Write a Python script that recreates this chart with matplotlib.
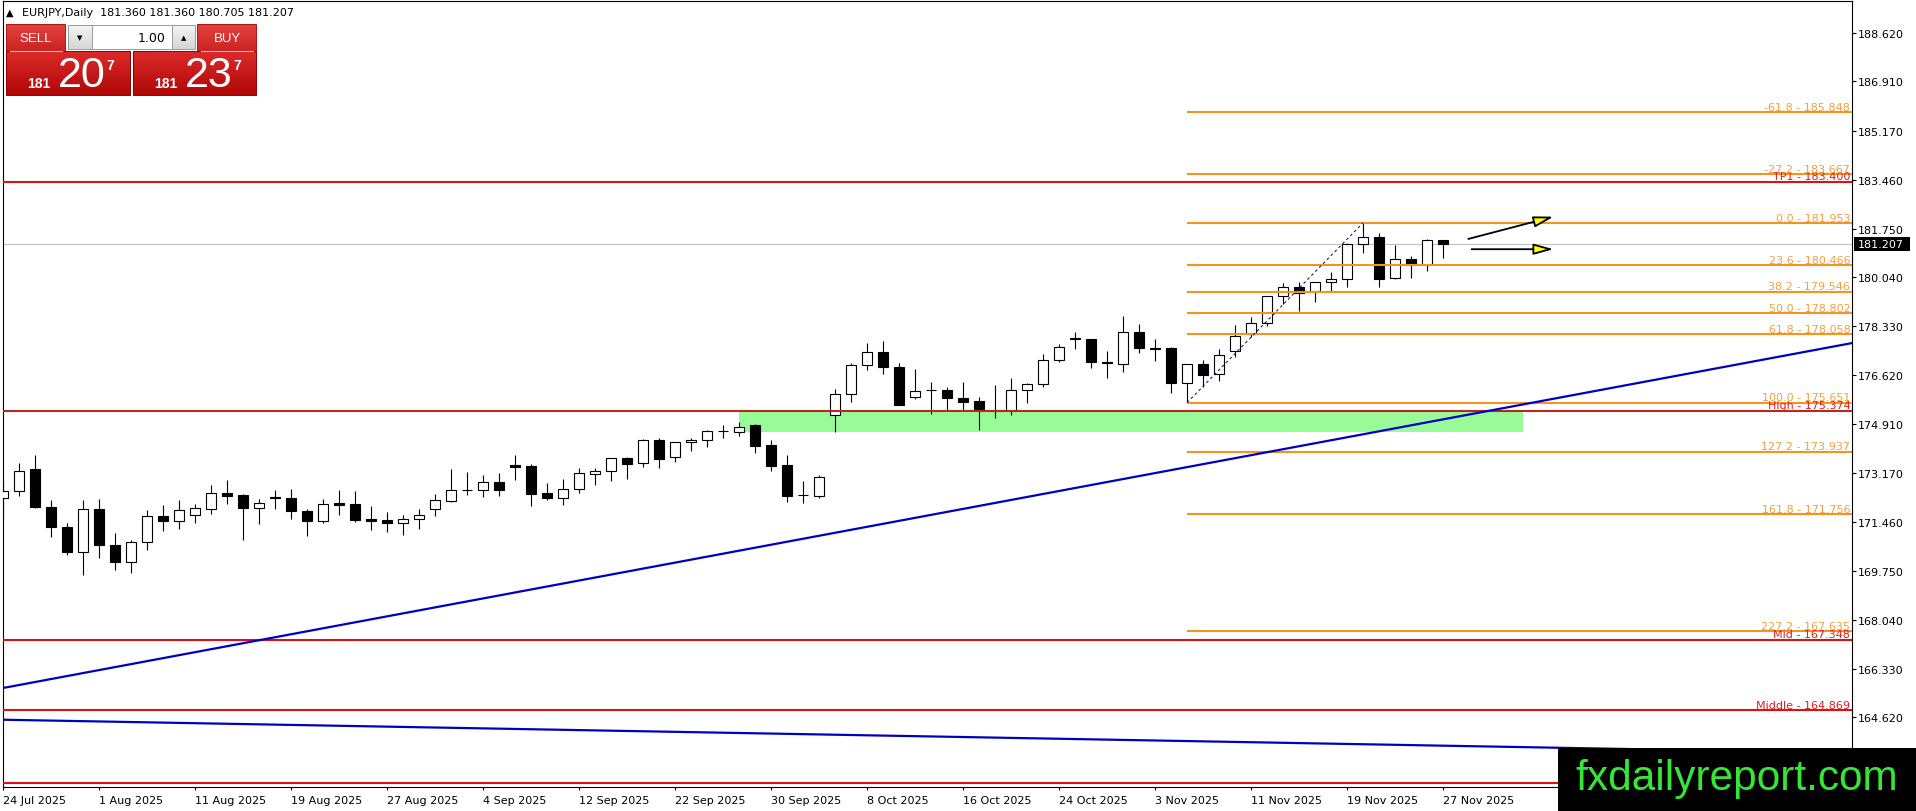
import numpy as np
import matplotlib
matplotlib.use("Agg")
import matplotlib.pyplot as plt
import matplotlib.transforms as mtransforms
from matplotlib.patches import Rectangle, FancyArrowPatch
from matplotlib.colors import LinearSegmentedColormap

plt.rcParams['font.family'] = ['DejaVu Sans']

# ---------------- data ----------------
symbol = "EURJPY,Daily"
header_ohlc = ["181.360", "181.360", "180.705", "181.207"]

opens = [172.32,172.56,173.32,172.01,171.31,170.40,171.94,170.66,170.07,170.75,
         171.69,171.51,171.72,171.94,172.48,172.41,171.96,172.36,172.30,171.85,
         171.51,172.13,172.09,171.57,171.53,171.42,171.57,171.91,172.22,172.58,
         172.59,172.86,173.45,173.42,172.47,172.32,172.61,173.14,173.26,173.71,
         173.52,174.33,173.73,174.26,174.33,174.65,174.61,174.86,174.16,173.46,
         172.41,172.38,175.23,175.97,176.96,177.44,176.89,175.86,176.09,176.11,
         175.82,175.70,175.41,175.37,176.11,176.32,177.16,177.89,177.89,177.09,
         177.02,178.12,177.58,177.57,176.33,177.00,176.64,177.45,178.06,178.43,
         179.38,179.69,179.55,179.87,179.98,181.23,181.45,180.01,180.69,180.46,
         181.36]
highs = [172.85,173.53,173.81,172.23,171.43,172.23,172.29,171.07,170.83,171.88,
         172.06,172.23,172.09,172.76,172.93,172.44,172.27,172.58,172.62,171.91,
         172.27,172.58,172.55,172.02,171.81,171.71,171.92,172.45,173.33,173.21,
         173.12,173.19,173.81,173.50,172.82,172.97,173.36,173.36,173.71,173.76,
         174.37,174.41,174.27,174.41,174.68,174.88,174.96,174.90,174.33,173.81,
         172.89,173.13,176.14,177.05,177.75,177.82,177.05,176.82,176.37,176.21,
         176.37,175.86,176.26,176.50,176.35,177.34,177.72,178.12,177.90,177.46,
         178.68,178.40,177.87,177.59,177.01,177.14,177.53,178.37,178.64,179.40,
         179.84,179.87,179.88,180.22,181.24,181.953,181.59,181.18,180.78,181.39,
         181.36]
lows = [171.62,172.38,171.95,170.95,170.32,169.62,170.19,169.79,169.68,170.49,
        171.16,171.22,171.43,171.75,172.10,170.84,171.40,171.91,171.57,170.98,
        171.42,171.72,171.47,171.19,171.12,171.02,171.22,171.69,172.16,172.43,
        172.36,172.39,172.95,172.04,172.25,172.08,172.50,172.78,172.91,172.97,
        173.41,173.36,173.58,173.94,174.11,174.40,174.49,173.87,173.27,172.17,
        172.15,172.32,174.62,175.67,176.79,176.67,175.56,175.79,175.27,175.38,
        175.38,174.69,175.11,175.23,175.63,176.20,177.07,177.54,176.88,176.53,
        176.74,177.38,177.11,176.00,175.651,176.19,176.40,177.24,177.94,178.35,
        179.11,178.87,179.17,179.58,179.69,180.88,179.69,180.00,180.01,180.25,
        180.705]
closes = [172.56,173.26,172.00,171.30,170.40,171.94,170.67,170.07,170.75,171.69,
          171.51,171.88,171.95,172.48,172.38,171.96,172.15,172.31,171.86,171.51,
          172.09,172.07,171.54,171.51,171.42,171.57,171.71,172.24,172.59,172.60,
          172.86,172.60,173.41,172.46,172.32,172.61,173.17,173.26,173.70,173.51,
          174.33,173.69,174.26,174.34,174.67,174.66,174.81,174.14,173.44,172.38,
          172.40,173.06,175.97,176.96,177.44,176.91,175.57,176.07,176.10,175.81,
          175.69,175.44,175.37,176.11,176.32,177.16,177.61,177.90,177.07,177.03,
          178.14,177.58,177.52,176.33,177.00,176.63,177.31,178.00,178.44,179.39,
          179.69,179.48,179.87,179.97,181.23,181.45,179.97,180.67,180.49,181.35,
          181.207]

date_labels = ["24 Jul 2025", "1 Aug 2025", "11 Aug 2025", "19 Aug 2025", "27 Aug 2025",
               "4 Sep 2025", "12 Sep 2025", "22 Sep 2025", "30 Sep 2025", "8 Oct 2025",
               "16 Oct 2025", "24 Oct 2025", "3 Nov 2025", "11 Nov 2025", "19 Nov 2025",
               "27 Nov 2025"]
date_index = [0, 6, 12, 18, 24, 30, 36, 42, 48, 54, 60, 66, 72, 78, 84, 90]
price_ticks = [188.620, 186.910, 185.170, 183.460, 181.750, 180.040, 178.330, 176.620,
               174.910, 173.170, 171.460, 169.750, 168.040, 166.330, 164.620]

fib_pct = ["-61.8", "-27.2", "0.0", "23.6", "38.2", "50.0", "61.8", "100.0", "127.2", "161.8", "227.2"]
fib_levels = [185.848, 183.667, 181.953, 180.466, 179.546, 178.802, 178.058, 175.651, 173.937, 171.756, 167.635]
fib_anchor_low = (74, 175.651)
fib_anchor_high = (85, 181.953)

red_names = ["TP1", "High", "Mid", "Middle", ""]
red_levels = [183.400, 175.374, 167.348, 164.869, 162.31]

trend_up_x = [-0.19, 115.56]
trend_up_y = [165.63, 177.74]
trend_dn_x = [-0.19, 115.56]
trend_dn_y = [164.54, 163.37]

zone_x = [46.0, 95.0]
zone_y = [174.63, 175.374]

arrow_from = [(91.58, 181.39), (91.79, 181.03)]
arrow_to = [(96.9, 182.17), (96.9, 181.03)]

last_price = 181.207
lot_size = "1.00"
sell_quote = ("181", "20", "7")
buy_quote = ("181", "23", "7")
watermark = "fxdailyreport.com"

# ---------------- figure ----------------
W, H = 1916, 812
fig = plt.figure(figsize=(W / 100, H / 100), dpi=100)
fig.patch.set_facecolor('white')
ax = fig.add_axes([2.5 / W, (H - 788) / H, (1852 - 2.5) / W, (788 - 2) / H])
ax.set_xlim(-0.03, 115.56)
ax.set_ylim(162.18, 189.73)
ax.set_facecolor('white')
for s in ax.spines.values():
    s.set_color('black')
    s.set_linewidth(0.8)

# zone
ax.add_patch(Rectangle((zone_x[0], zone_y[0]), zone_x[1] - zone_x[0], zone_y[1] - zone_y[0],
                       facecolor='#98fb98', edgecolor='none', zorder=1))

# current price line
ax.axhline(last_price, color='#c0c0c0', lw=0.8, zorder=1.5)

# candles
o = np.array(opens); h = np.array(highs); l = np.array(lows); c = np.array(closes)
x = np.arange(len(o))
up = c >= o
ax.vlines(x, l, h, color='black', lw=0.8, zorder=2)
bottom = np.minimum(o, c)
height = np.maximum(np.abs(c - o), 0.02)
ax.bar(x, height, width=0.64, bottom=bottom, color=np.where(up, 'white', 'black'),
       edgecolor='black', linewidth=0.8, zorder=3)

blend = mtransforms.blended_transform_factory(ax.transAxes, ax.transData)
xr = ax.get_xlim()[1]

# red lines
for name, lev in zip(red_names, red_levels):
    col = '#b42a1e' if name == "High" else '#dd1111'
    ax.plot([ax.get_xlim()[0], xr], [lev, lev], color=col, lw=1.5, zorder=4, solid_capstyle='butt')
    if name:
        ax.annotate(f"{name} - {lev:.3f}", xy=(1, lev), xycoords=blend, xytext=(-1.2, 1.6),
                    textcoords='offset points', ha='right', va='baseline', fontsize=8,
                    color='#e02020', zorder=7)

# fib lines
for pct, lev in zip(fib_pct, fib_levels):
    ax.plot([fib_anchor_low[0], xr], [lev, lev], color='#f39322', lw=1.5, zorder=4, solid_capstyle='butt')
    ax.annotate(f"{pct} - {lev:.3f}", xy=(1, lev), xycoords=blend, xytext=(-1.2, 1.6),
                textcoords='offset points', ha='right', va='baseline', fontsize=8,
                color='#f0a040', zorder=7)
ax.plot([fib_anchor_low[0], fib_anchor_high[0]], [fib_anchor_low[1], fib_anchor_high[1]],
        color='#1a1a8c', lw=0.8, dashes=(2.5, 2.5), zorder=4)

# trend lines
ax.plot(trend_up_x, trend_up_y, color='#0000c0', lw=1.6, zorder=5)
ax.plot(trend_dn_x, trend_dn_y, color='#0000c0', lw=1.6, zorder=5)

# arrows
for p0, p1 in zip(arrow_from, arrow_to):
    ax.add_patch(FancyArrowPatch(p0, p1, arrowstyle='-|>,head_length=1.2,head_width=0.33',
                                 mutation_scale=10, facecolor='#ffff00', edgecolor='black',
                                 lw=1.3, shrinkA=0, shrinkB=0, zorder=6))

# axes ticks
ax.yaxis.tick_right()
ax.set_yticks(price_ticks)
ax.set_yticklabels([f"{v:.3f}" for v in price_ticks])
ax.tick_params(axis='y', direction='out', length=3, width=0.8, pad=1.5, labelsize=8,
               colors='black')
ax.set_xticks(date_index)
ax.set_xticklabels(date_labels, ha='left')
ax.tick_params(axis='x', direction='out', length=2.5, width=0.8, pad=3.5, labelsize=8,
               colors='black')

# ---------------- overlay (pixel coords) ----------------
ov = fig.add_axes([0, 0, 1, 1], zorder=10)
ov.set_xlim(0, W)
ov.set_ylim(H, 0)
ov.axis('off')
ov.patch.set_alpha(0)

# last price box on the axis
_, ypix = ax.transData.transform((0, last_price))
yp = H - ypix
ov.add_patch(Rectangle((1854, yp - 6.8), 56, 13.6, facecolor='black', edgecolor='none', zorder=3))
ov.text(1858, yp, f"{last_price:.3f}", color='white', fontsize=8, ha='left', va='center', zorder=4)


def grad_rect(x0, y0, x1, y1, c_top, c_bot, ec=None):
    cmap = LinearSegmentedColormap.from_list('g', [c_top, c_bot])
    g = np.linspace(0, 1, 64).reshape(-1, 1)
    ov.imshow(g, extent=(x0, x1, y1, y0), cmap=cmap, aspect='auto', interpolation='bilinear', zorder=1)
    if ec:
        ov.add_patch(Rectangle((x0, y0), x1 - x0, y1 - y0, fill=False, ec=ec, lw=0.7, zorder=2))


# header
ov.text(5.5, 12.5, "\u25B2", fontsize=7, ha='left', va='center', color='black')
ov.text(21.7, 12.5, f"{symbol}  " + " ".join(header_ohlc), fontsize=8, ha='left', va='center',
        color='black')

# one-click trading panel
grad_rect(6, 25, 65, 52, '#e4443f', '#cc2222', ec='#b01515')
grad_rect(197, 25, 256, 52, '#e4443f', '#cc2222', ec='#b01515')
grad_rect(68, 26, 92, 50, '#f4f4f4', '#d6d6d6', ec='#9a9a9a')
grad_rect(172, 26, 195, 50, '#f4f4f4', '#d6d6d6', ec='#9a9a9a')
ov.add_patch(Rectangle((92, 26), 80, 24, facecolor='white', edgecolor='#9a9a9a', lw=0.7, zorder=2))
grad_rect(6, 52, 130, 96, '#dc2a2a', '#b00808', ec='#900000')
grad_rect(133, 52, 256, 96, '#dc2a2a', '#b00808', ec='#900000')
ov.plot([10, 62], [52, 52], color='#f2b0b0', lw=0.8, zorder=3)
ov.plot([201, 253], [52, 52], color='#f2b0b0', lw=0.8, zorder=3)
ov.text(80, 38, "\u25BC", fontsize=5, ha='center', va='center', color='black', zorder=4)
ov.text(183.5, 38, "\u25B2", fontsize=5, ha='center', va='center', color='black', zorder=4)
ov.text(166, 38.5, lot_size, fontsize=9, ha='right', va='center', color='black', zorder=4)
ov.text(36, 39, "SELL", fontsize=9.5, ha='center', va='center', color='white',
        family='Liberation Sans', zorder=4)
ov.text(227, 39, "BUY", fontsize=9.5, ha='center', va='center', color='white',
        family='Liberation Sans', zorder=4)

for x0, q in ((27, sell_quote), (154, buy_quote)):
    ov.text(x0, 88, q[0], fontsize=10, fontweight='bold', ha='left', va='baseline', color='white',
            family='Liberation Sans', zorder=4)
    ov.text(x0 + 31, 87, q[1], fontsize=31, ha='left', va='baseline', color='white',
            family='Liberation Sans', zorder=4)
    ov.text(x0 + 79, 70, q[2], fontsize=10, fontweight='bold', ha='left', va='baseline', color='white',
            family='Liberation Sans', zorder=4)

# watermark
ov.add_patch(Rectangle((1557.7, 748.7), W - 1557.7, H - 748.7, facecolor='black', edgecolor='none', zorder=5))
ov.text(1575, 790, watermark, fontsize=30.5, color='#36e636', ha='left', va='baseline',
        family='Liberation Sans', zorder=6)

fig.savefig('out.png', dpi=100)
